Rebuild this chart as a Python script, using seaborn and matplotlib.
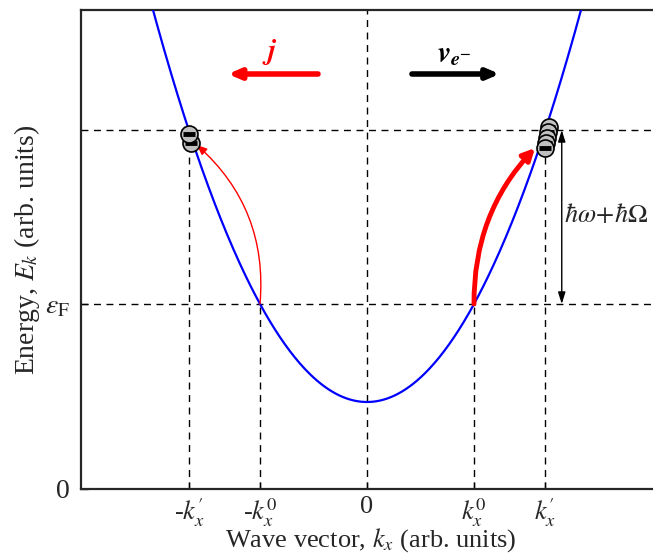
import numpy as np
import matplotlib
matplotlib.use("Agg")
import matplotlib.pyplot as plt
import seaborn as sns

# band parameters (arb. units)
e_min = 0.87
e_fermi = 1.85
e_upper = 3.59
k0 = 1.0
kp = 1.66
curv = (e_fermi - e_min) / k0 ** 2

k_ticks = [-kp, -k0, 0, k0, kp]
k_labels = [r"-$k_x^{\prime}$", r"-$k_x^{0}$", "0", r"$k_x^{0}$", r"$k_x^{\prime}$"]

# electrons (gray balls)
left_k = [-1.645, -1.664]
left_e = [3.46, 3.55]
right_k = [1.70, 1.69, 1.68, 1.67, 1.66]
right_e = [3.62, 3.57, 3.51, 3.46, 3.41]

sns.set_style("ticks")
plt.rcParams["font.family"] = ["Liberation Serif", "DejaVu Serif"]
plt.rcParams["mathtext.fontset"] = "stix"

fig = plt.figure(figsize=(6.53, 5.58), dpi=100)
px = 107.0
xmin, xmax = -2.673, 2.75
ax = fig.add_axes([81 / 653, 69 / 558, (xmax - xmin) * px / 653, 479 / 558])

k = np.linspace(-2.3, 2.3, 400)
band = e_min + curv * k ** 2
sns.lineplot(x=k, y=band, color="blue", lw=1.6, ax=ax, zorder=3)

dash = dict(color="black", lw=1, ls=(0, (5, 4)), zorder=2)
ax.axvline(0, **dash)
ax.axhline(e_fermi, **dash)
ax.axhline(e_upper, **dash)
for kk in [-kp, kp]:
    ax.plot([kk, kk], [0, e_upper], **dash)
for kk in [-k0, k0]:
    ax.plot([kk, kk], [0, e_fermi], **dash)

# electrons
for i, (kk, ee) in enumerate(zip(left_k, left_e)):
    ax.scatter(kk, ee, s=150, color="#c0c0c0", edgecolor="black", lw=1.2, zorder=5 + 2 * i)
    ax.scatter(kk, ee, s=80, marker="_", color="black", lw=3.5, zorder=6 + 2 * i)
for i, (kk, ee) in enumerate(zip(right_k, right_e)):
    ax.scatter(kk, ee, s=150, color="#c0c0c0", edgecolor="black", lw=1.2, zorder=5 + 2 * i)
    ax.scatter(kk, ee, s=80, marker="_", color="black", lw=3.5, zorder=6 + 2 * i)

# transitions
ax.annotate("", xy=(-1.59, 3.44), xytext=(-k0, e_fermi),
            arrowprops=dict(arrowstyle="-|>,head_length=0.6,head_width=0.25", color="red", lw=1,
                            connectionstyle="arc3,rad=0.25", shrinkA=0, shrinkB=0), zorder=4)
ax.annotate("", xy=(1.57, 3.41), xytext=(k0, e_fermi),
            arrowprops=dict(arrowstyle="-|>,head_length=0.7,head_width=0.35", color="red", lw=3.5,
                            connectionstyle="arc3,rad=-0.2", shrinkA=0, shrinkB=0), zorder=4)

# current / velocity arrows
ax.annotate("", xy=(-1.30, 4.15), xytext=(-0.458, 4.15),
            arrowprops=dict(arrowstyle="-|>,head_length=0.7,head_width=0.3", color="red", lw=4,
                            shrinkA=0, shrinkB=0))
ax.annotate("", xy=(1.24, 4.15), xytext=(0.42, 4.15),
            arrowprops=dict(arrowstyle="-|>,head_length=0.7,head_width=0.3", color="black", lw=4,
                            shrinkA=0, shrinkB=0))
ax.text(-0.91, 4.37, r"$\boldsymbol{j}$", color="red", fontsize=21, ha="center", va="center")
ax.text(0.82, 4.34, r"$\boldsymbol{v}_{\boldsymbol{e}^{\boldsymbol{-}}}$", color="black", fontsize=21,
        ha="center", va="center")

# photon energy
ax.annotate("", xy=(1.82, e_upper), xytext=(1.82, e_fermi),
            arrowprops=dict(arrowstyle="<|-|>,head_length=0.7,head_width=0.22", color="black", lw=1,
                            shrinkA=0, shrinkB=0))
ax.text(1.845, 2.74, r"$\hbar\omega\!+\!\hbar\Omega$", fontsize=19, ha="left", va="center")

ax.set_xlim(xmin, xmax)
ax.set_ylim(0, 4.79)
ax.set_xticks(k_ticks)
ax.set_xticklabels(k_labels)
ax.set_yticks([0, e_fermi])
ax.set_yticklabels(["0", r"$\varepsilon_{\mathrm{F}}$"])
ax.tick_params(direction="in", length=5, width=1, labelsize=20, pad=8)
ax.tick_params(axis="x", labelsize=19, pad=5)
for s in ax.spines.values():
    s.set_linewidth(1.6)
ax.set_xlabel(r"Wave vector, $k_x$ (arb. units)", fontsize=19, labelpad=-2)
ax.set_ylabel(r"Energy, $E_k$ (arb. units)", fontsize=20, labelpad=2)

fig.savefig("out.png", dpi=100)
